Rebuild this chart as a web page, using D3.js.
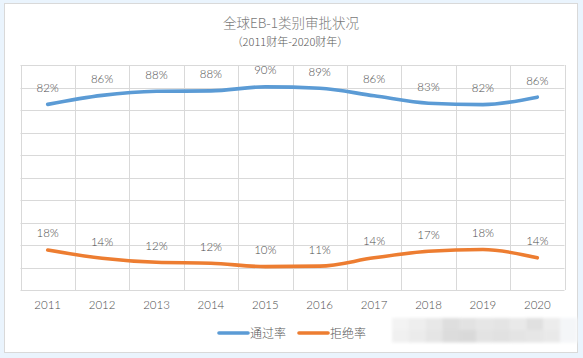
<!DOCTYPE html>
<html><head><meta charset="utf-8">
<script src="https://cdn.jsdelivr.net/npm/d3@7"></script>
<style>
html,body{margin:0;padding:0;background:#eaf4fd;}
svg{display:block;}
</style></head>
<body>
<script>
const years = ["2011","2012","2013","2014","2015","2016","2017","2018","2019","2020"];
const approvalRate = [0.825, 0.865, 0.883, 0.885, 0.903, 0.897, 0.863, 0.830, 0.824, 0.857];
const denialRate   = [0.178, 0.141, 0.123, 0.119, 0.104, 0.106, 0.143, 0.172, 0.180, 0.143];
const approvalLabels = ["82%","86%","88%","88%","90%","89%","86%","83%","82%","86%"];
const denialLabels   = ["18%","14%","12%","12%","10%","11%","14%","17%","18%","14%"];
const seriesNames = ["通过率","拒绝率"];
const colors = ["#5b9bd5","#ed7d31"];
const yTicks = [0,0.1,0.2,0.3,0.4,0.5,0.6,0.7,0.8,0.9,1.0];

(function(){
const W=583,H=358;
const svg=d3.select("body").append("svg").attr("width",W).attr("height",H);
svg.append("rect").attr("x",4.5).attr("y",3.5).attr("width",573).attr("height",349)
  .attr("fill","#fff").attr("stroke","#d9d9d9");

const pL=20.5,pR=564.5,pT=65,pB=290;
const x=d3.scaleBand().domain(years).range([pL,pR]);
const y=d3.scaleLinear().domain([0,1]).range([pB,pT]);

const g=svg.append("g");
g.selectAll(".hg").data(yTicks).join("line")
  .attr("x1",pL).attr("x2",pR)
  .attr("y1",d=>Math.round(y(d))+0.5).attr("y2",d=>Math.round(y(d))+0.5)
  .attr("stroke","#d9d9d9").attr("stroke-width",1);
const vb=years.map(d=>x(d)).concat([pR]);
g.selectAll(".vg").data(vb).join("line")
  .attr("x1",d=>Math.round(d)+0.5).attr("x2",d=>Math.round(d)+0.5)
  .attr("y1",pT).attr("y2",pB)
  .attr("stroke","#d9d9d9").attr("stroke-width",1);

const numFont="Lato, 'Noto Sans', sans-serif";
const xa=d3.axisBottom(x).tickSize(0).tickPadding(0);
const ax=svg.append("g").attr("transform",`translate(0,${pB+11})`).call(xa);
ax.select(".domain").remove();
ax.selectAll("text").attr("font-family",numFont).attr("font-weight",300).attr("font-size",11.5).attr("fill","#4d4d4d");

const font="'Noto Sans CJK SC', sans-serif";
svg.append("text").attr("x",291).attr("y",28).attr("text-anchor","middle")
  .attr("font-family",font).attr("font-weight",300).attr("font-size",13.5).attr("fill","#7a7a7a").text("全球EB-1类别审批状况");
svg.append("text").attr("x",290).attr("y",46).attr("text-anchor","middle")
  .attr("font-family",font).attr("font-weight",300).attr("font-size",11).attr("fill","#595959").text("（2011财年-2020财年）");

const line=d3.line().x((d,i)=>x(years[i])+x.bandwidth()/2).y(d=>y(d)).curve(d3.curveMonotoneX);
[approvalRate,denialRate].forEach((s,k)=>{
  svg.append("path").datum(s).attr("d",line).attr("fill","none")
    .attr("stroke",colors[k]).attr("stroke-width",3.6).attr("stroke-linecap","round");
});
[[approvalRate,approvalLabels],[denialRate,denialLabels]].forEach(([s,l])=>{
  svg.append("g").selectAll("text").data(s).join("text")
    .attr("x",(d,i)=>x(years[i])+x.bandwidth()/2)
    .attr("y",d=>y(d)-12.5)
    .attr("text-anchor","middle")
    .attr("font-family",numFont).attr("font-weight",300).attr("font-size",11.5).attr("fill","#4d4d4d")
    .text((d,i)=>l[i]);
});

const lg=svg.append("g");
const lx=[219,299];
seriesNames.forEach((n,k)=>{
  lg.append("line").attr("x1",lx[k]).attr("x2",lx[k]+29).attr("y1",333).attr("y2",333)
    .attr("stroke",colors[k]).attr("stroke-width",3.6).attr("stroke-linecap","round");
  lg.append("text").attr("x",lx[k]+31).attr("y",337.5).attr("font-family",font).attr("font-weight",300)
    .attr("font-size",12).attr("fill","#595959").text(n);
});

// pixelated watermark smear
const defs=svg.append("defs");
defs.append("filter").attr("id","bl").append("feGaussianBlur").attr("stdDeviation",1.5);
const wm=svg.append("g").attr("filter","url(#bl)");
const shades=[["#f3f3f3","#eeeeee","#e8e8e8","#dedede","#e2e2e2","#e6e6e6","#e4e4e4","#e9e9e9","#e0e0e0","#ececec","#f4f6f8"],
              ["#f0f0f0","#ebebeb","#e5e5e5","#dcdcdc","#d9d9d9","#e3e3e3","#e1e1e1","#e4e4e4","#e6e6e6","#e9e9e9","#f4f6f8"]];
shades.forEach((row,r)=>row.forEach((c,i)=>{
  wm.append("rect").attr("x",392+i*16.8).attr("y",318+r*12).attr("width",17.3).attr("height",12.5).attr("fill",c);
}));
})();
</script>
</body></html>
